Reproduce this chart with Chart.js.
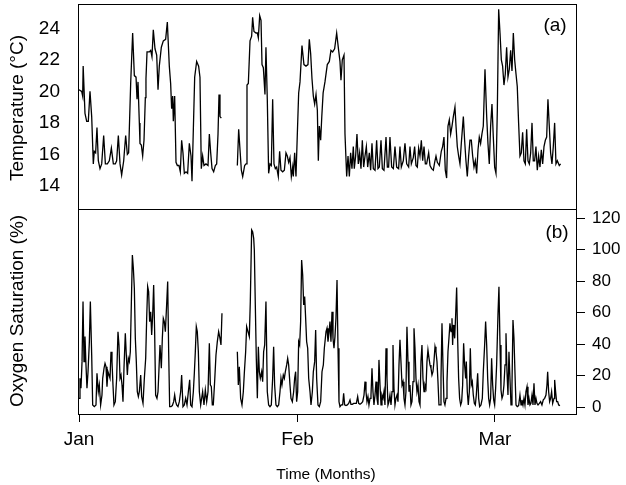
<!DOCTYPE html>
<html>
<head>
<meta charset="utf-8">
<title>Temperature and oxygen saturation</title>
<script src="https://cdn.jsdelivr.net/npm/chart.js@4.4.1/dist/chart.umd.min.js"></script>
<style>
  html, body { margin: 0; padding: 0; background: #fff; }
</style>
</head>
<body>
<canvas id="chart" width="626" height="485"></canvas>
<script>
// ---- data (days since 1 Jan) ----
const tempDays = [
  0.00, 0.38, 0.52, 0.59, 0.85, 1.09, 1.32, 1.56, 1.80, 2.03,
  2.17, 2.36, 2.55, 2.74, 2.98, 3.22, 3.50, 3.74, 4.02, 4.30,
  4.59, 4.87, 5.15, 5.34, 5.58, 5.82, 6.05, 6.34, 6.62, 6.86,
  7.04, 7.33, 7.61, 7.85, 8.09, 8.23, 8.37, 8.56, 8.65, 8.84,
  9.03, 9.22, 9.41, 9.50, 9.65, 9.98, 10.17, 10.35, 10.54, 10.78,
  11.02, 11.21, 11.39, 11.68, 11.96, 12.29, 12.53, 12.81, 13.00, 13.14,
  13.29, 13.38, 13.57, 13.76, 13.95, 14.18, 14.37, 14.56, 14.75, 14.94,
  15.18, 15.41, 15.65, 15.89, 16.03, 16.22, 16.41, 16.69, 16.97, 17.16,
  17.35, 17.54, 17.73, 18.01, 18.30, 18.49, 18.68, 18.87, 19.10, 19.34,
  19.53, 19.72, 19.86, 20.00, 20.19, 21.30,
  22.46, 22.65, 23.03, 23.22, 23.50, 23.69, 23.83, 24.02, 24.26, 24.49,
  24.63, 24.82, 25.11, 25.30, 25.44, 25.63, 25.82, 25.96, 26.15, 26.38,
  26.52, 26.71, 26.90, 27.09, 27.28, 27.47, 27.66, 27.85, 28.04, 28.27,
  28.46, 28.65, 28.89, 29.13, 29.36, 29.55, 29.74, 29.93, 30.12, 30.31,
  30.40, 30.59, 30.78, 30.97, 31.16, 31.35, 31.63, 31.91, 32.20, 32.48,
  32.67, 32.86, 33.05, 33.24, 33.43, 33.62, 33.81, 33.95, 34.09, 34.28,
  34.44, 34.63, 34.89, 35.22, 35.51, 35.74, 35.98, 36.26, 36.55, 36.83,
  37.02, 37.16, 37.35, 37.59, 37.73, 37.97, 38.16, 38.35, 38.53, 38.72,
  38.91, 39.05, 39.24, 39.43, 39.62, 39.81, 40.00, 40.19, 40.38, 40.57,
  40.76, 40.95, 41.18, 41.37, 41.56, 41.75, 41.99, 42.22, 42.41, 42.60,
  42.84, 43.03, 43.26, 43.55, 43.74, 43.92, 44.11, 44.35, 44.59, 44.82,
  45.06, 45.34, 45.53, 45.72, 46.00, 46.24, 46.48, 46.76, 46.95, 47.14,
  47.42, 47.61, 47.80, 47.99, 48.18, 48.37, 48.56, 48.75, 48.94, 49.13,
  49.31, 49.60, 49.79, 50.02, 50.26, 50.45, 50.64, 50.83, 51.11, 51.39,
  51.58, 51.77, 51.96, 52.15, 52.34, 52.53, 52.72, 52.91, 53.10, 53.33,
  53.48, 53.66, 53.85, 54.04, 54.23, 54.52, 54.70, 54.89, 55.08, 55.27,
  55.46, 55.65, 55.84, 56.03, 56.22, 56.41, 56.60, 56.78, 56.97, 57.16,
  57.35, 57.59, 57.83, 58.01, 58.20, 58.39, 58.58, 58.77, 58.96, 59.15,
  59.34, 59.53, 59.72, 59.91, 60.09, 60.28, 60.47, 60.66, 60.85, 61.04,
  61.23, 61.42, 61.61, 61.80, 61.99, 62.17, 62.36, 62.55, 62.74, 62.93,
  63.12, 63.31, 63.50, 63.69, 63.88, 64.07, 64.26, 64.44, 64.63, 64.82,
  65.01, 65.20, 65.39, 65.58, 65.77, 65.96, 66.15, 66.34, 66.52, 66.71,
  66.90, 67.09, 67.28, 67.47, 67.66, 67.85, 68.13, 68.32
];
const tempVals = [
  20.1, 20.0, 19.7, 21.6, 18.6, 18.1, 18.1, 20.0, 18.4, 15.4,
  16.2, 16.1, 17.7, 15.6, 15.1, 15.4, 17.2, 15.4, 15.4, 15.6,
  16.4, 15.4, 15.4, 15.6, 17.2, 15.4, 14.7, 15.6, 17.2, 16.0,
  16.1, 20.5, 23.7, 21.0, 20.9, 19.5, 20.6, 18.0, 16.7, 16.6,
  15.9, 16.9, 19.6, 20.8, 22.5, 22.5, 22.6, 22.2, 23.9, 22.7,
  22.3, 20.1, 21.6, 22.8, 23.2, 23.3, 24.4, 21.6, 20.5, 18.9,
  19.7, 18.1, 19.7, 15.5, 15.3, 15.3, 14.9, 16.9, 16.1, 14.8,
  14.9, 14.8, 16.7, 15.9, 14.3, 17.6, 20.9, 21.9, 21.6, 20.9,
  15.1, 15.9, 15.3, 15.4, 15.3, 17.3, 16.1, 15.1, 14.9, 15.3,
  15.4, 17.3, 19.8, 18.4, 18.3, null,
  15.3, 17.6, 15.0, 14.6, 15.3, 15.4, 20.4, 20.5, 23.2, 23.5,
  24.7, 23.8, 23.7, 23.7, 23.4, 24.8, 24.5, 21.7, 21.5, 19.8,
  22.8, 19.5, 14.8, 15.4, 15.3, 19.5, 15.4, 15.1, 15.2, 14.6,
  16.2, 15.0, 14.9, 15.0, 16.1, 15.9, 15.5, 15.8, 14.6, 15.2,
  14.6, 16.1, 14.6, 17.3, 19.9, 20.6, 22.9, 21.7, 21.6, 21.7,
  23.3, 22.4, 20.8, 19.7, 19.2, 19.8, 18.8, 15.6, 17.8, 16.9,
  18.4, 19.9, 20.6, 21.7, 21.9, 22.6, 22.5, 22.7, 23.7, 22.6,
  21.9, 20.7, 22.0, 22.3, 17.3, 14.6, 15.9, 14.6, 16.1, 15.1,
  16.5, 15.1, 15.9, 17.3, 15.4, 16.1, 15.1, 16.9, 15.2, 15.9,
  16.5, 15.2, 16.1, 15.0, 16.7, 15.1, 15.0, 16.9, 15.1, 15.2,
  16.9, 15.1, 15.0, 17.1, 15.2, 15.2, 17.1, 15.2, 15.1, 16.5,
  15.2, 15.1, 16.5, 15.2, 15.6, 16.7, 15.4, 15.2, 16.5, 15.4,
  15.8, 16.5, 15.3, 15.2, 16.4, 15.9, 16.9, 15.6, 16.5, 15.4,
  15.4, 16.1, 15.3, 15.1, 15.0, 15.5, 15.9, 15.5, 15.3, 16.2,
  16.5, 17.1, 15.0, 14.5, 17.8, 18.2, 17.3, 17.8, 18.4, 19.0,
  17.8, 16.5, 15.9, 15.4, 16.7, 18.4, 16.9, 15.6, 14.6, 15.9,
  16.9, 16.9, 15.9, 15.2, 15.6, 14.8, 16.3, 17.1, 16.7, 17.3,
  17.8, 21.4, 18.4, 16.7, 15.4, 17.8, 19.2, 17.1, 15.2, 14.8,
  18.8, 25.2, 23.7, 22.0, 21.6, 20.4, 21.1, 22.8, 20.9, 21.4,
  22.6, 21.3, 23.7, 22.0, 21.1, 20.3, 18.0, 15.9, 16.1, 17.4,
  15.6, 15.4, 17.6, 15.6, 15.4, 16.1, 18.0, 15.6, 15.6, 16.5,
  15.0, 15.9, 15.2, 16.3, 15.4, 16.5, 16.9, 17.1, 19.5, 17.8,
  16.1, 15.4, 16.5, 18.0, 15.4, 15.6, 15.3, 15.4
];

const oxyDays = [
  0.00, 0.14, 0.28, 0.43, 0.57, 0.71, 0.85, 0.99, 1.13, 1.28,
  1.47, 1.61, 1.80, 1.94, 2.17, 2.41, 2.55, 2.74, 2.88, 3.07,
  3.26, 3.36, 3.55, 3.69, 3.83, 3.97, 4.11, 4.26, 4.40, 4.54,
  4.68, 4.82, 4.96, 5.15, 5.34, 5.53, 5.67, 5.82, 5.96, 6.10,
  6.24, 6.38, 6.57, 6.71, 6.86, 7.00, 7.14, 7.28, 7.42, 7.57,
  7.71, 7.85, 7.99, 8.13, 8.27, 8.42, 8.56, 8.75, 8.89, 9.08,
  9.27, 9.46, 9.60, 9.74, 9.88, 10.02, 10.17, 10.31, 10.45, 10.59,
  10.73, 10.87, 11.06, 11.21, 11.35, 11.49, 11.68, 11.82, 11.96, 12.10,
  12.25, 12.43, 12.58, 12.72, 12.86, 13.05, 13.24, 13.43, 13.57, 13.71,
  13.85, 14.04, 14.23, 14.42, 14.56, 14.75, 14.94, 15.13, 15.32, 15.51,
  15.70, 15.84, 16.03, 16.22, 16.36, 16.50, 16.64, 16.78, 16.93, 17.07,
  17.26, 17.54, 17.73, 17.92, 18.11, 18.30, 18.49, 18.63, 18.77, 18.91,
  19.05, 19.24, 19.43, 19.62, 19.81, 20.00, 20.14, 20.28, 21.30,
  22.46, 22.60, 22.74, 22.93, 23.12, 23.31, 23.45, 23.64, 23.78, 23.97,
  24.16, 24.30, 24.49, 24.63, 24.78, 24.87, 25.01, 25.15, 25.30, 25.44,
  25.58, 25.72, 25.91, 26.05, 26.19, 26.34, 26.52, 26.71, 26.90, 27.09,
  27.28, 27.47, 27.61, 27.75, 27.94, 28.13, 28.32, 28.51, 28.65, 28.79,
  28.98, 29.13, 29.27, 29.46, 29.60, 29.74, 29.93, 30.07, 30.26, 30.45,
  30.59, 30.73, 30.87, 31.02, 31.16, 31.30, 31.44, 31.58, 31.73, 31.87,
  32.01, 32.15, 32.29, 32.44, 32.58, 32.77, 32.91, 33.10, 33.24, 33.43,
  33.57, 33.71, 33.90, 34.09, 34.28, 34.47, 34.66, 34.80, 35.04, 35.18,
  35.32, 35.46, 35.60, 35.74, 35.89, 36.03, 36.17, 36.31, 36.45, 36.60,
  36.74, 36.88, 37.02, 37.21, 37.40, 37.54, 37.68, 37.87, 38.06, 38.25,
  38.44, 38.58, 38.77, 38.96, 39.15, 39.34, 39.53, 39.67, 39.86, 40.05,
  40.24, 40.43, 40.57, 40.71, 40.85, 40.99, 41.13, 41.28, 41.42, 41.56,
  41.70, 41.84, 41.99, 42.13, 42.27, 42.41, 42.55, 42.70, 42.84, 42.98,
  43.12, 43.26, 43.40, 43.55, 43.69, 43.83, 43.97, 44.11, 44.26, 44.40,
  44.54, 44.68, 44.82, 44.96, 45.11, 45.25, 45.39, 45.53, 45.67, 45.82,
  45.96, 46.10, 46.24, 46.38, 46.52, 46.67, 46.81, 46.95, 47.09, 47.23,
  47.38, 47.52, 47.66, 47.80, 47.94, 48.09, 48.23, 48.37, 48.51, 48.65,
  48.79, 48.94, 49.08, 49.22, 49.36, 49.50, 49.65, 49.79, 49.93, 50.07,
  50.21, 50.35, 50.50, 50.64, 50.78, 50.92, 51.06, 51.21, 51.35, 51.49,
  51.63, 51.77, 51.91, 52.06, 52.20, 52.34, 52.48, 52.62, 52.77, 52.91,
  53.00, 53.10, 53.19, 53.29, 53.43, 53.57, 53.71, 53.85, 53.99, 54.14,
  54.28, 54.42, 54.56, 54.70, 54.85, 54.94, 55.08, 55.22, 55.37, 55.51,
  55.65, 55.79, 55.93, 56.08, 56.22, 56.36, 56.55, 56.69, 56.83, 57.02,
  57.21, 57.35, 57.54, 57.68, 57.83, 57.97, 58.11, 58.25, 58.39, 58.53,
  58.68, 58.82, 58.96, 59.10, 59.24, 59.43, 59.57, 59.72, 59.86, 60.00,
  60.14, 60.28, 60.43, 60.57, 60.71, 60.85, 60.99, 61.13, 61.28, 61.42,
  61.56, 61.70, 61.84, 61.99, 62.17, 62.36, 62.55, 62.70, 62.84, 62.98,
  63.12, 63.26, 63.40, 63.55, 63.69, 63.83, 63.97, 64.11, 64.26, 64.40,
  64.54, 64.68, 64.82, 64.96, 65.11, 65.30, 65.48, 65.67, 65.86, 66.05,
  66.24, 66.38, 66.48, 66.62, 66.76, 66.90, 67.04, 67.19, 67.38, 67.47,
  67.61, 67.75, 67.90, 68.04, 68.23
];
const oxyVals = [
  5.7, 18.4, 12.1, 29.0, 67.1, 29.0, 44.9, 26.9, 12.1, 22.6,
  41.7, 67.1, 33.2, 1.5, 0.4, 1.5, 21.6, 9.9, 14.2, 1.5,
  7.8, 18.4, 24.8, 27.9, 25.8, 13.1, 22.6, 20.5, 18.4, 35.3,
  29.0, 14.2, 1.5, 3.6, 18.4, 48.0, 39.6, 18.4, 20.5, 14.2,
  3.6, 24.8, 47.0, 33.2, 20.5, 31.1, 29.0, 35.3, 65.0, 96.7,
  88.3, 75.6, 43.8, 29.0, 9.9, 6.8, 9.9, 20.5, 6.8, 2.5,
  18.4, 31.1, 56.5, 76.6, 73.4, 54.4, 60.7, 45.9, 58.6, 77.7,
  48.0, 7.8, 5.7, 9.9, 24.8, 39.6, 24.8, 43.8, 56.5, 54.4,
  48.0, 65.0, 79.8, 35.3, 0.4, 0.4, 1.1, 3.6, 7.8, 3.6,
  1.5, 0.4, 3.6, 9.9, 20.5, 0.4, 1.5, 5.7, 1.5, 9.9,
  17.4, 1.5, 0.4, 9.9, 21.6, 35.3, 51.2, 48.0, 35.3, 9.9,
  1.5, 9.9, 1.5, 11.0, 3.6, 9.9, 40.6, 14.2, 13.1, 1.5,
  1.5, 16.3, 33.2, 41.7, 48.0, 43.8, 39.6, 59.7, null,
  35.3, 14.2, 25.8, 5.7, 1.5, 9.9, 21.6, 35.3, 51.2, 48.0,
  44.9, 67.1, 112.6, 111.5, 107.3, 99.9, 65.0, 31.1, 5.7, 38.5,
  22.6, 18.4, 22.6, 16.3, 35.3, 39.6, 67.1, 9.9, 1.5, 0.4,
  1.5, 18.4, 38.5, 14.2, 1.5, 0.4, 1.5, 9.9, 18.4, 14.2,
  20.5, 18.4, 22.6, 26.9, 31.1, 26.9, 14.2, 5.7, 3.6, 9.9,
  18.4, 22.6, 3.6, 9.9, 41.7, 39.6, 54.4, 93.5, 84.0, 65.0,
  70.3, 56.5, 41.7, 37.5, 18.4, 9.9, 1.5, 9.9, 22.6, 29.0,
  49.1, 18.4, 1.5, 0.4, 3.6, 22.6, 26.9, 37.5, 48.0, 50.2,
  41.7, 47.0, 54.4, 41.7, 60.7, 43.8, 37.5, 44.9, 56.5, 80.8,
  37.5, 3.6, 0.4, 1.5, 1.5, 8.9, 1.5, 1.1, 1.5, 2.5,
  4.7, 1.9, 1.9, 2.5, 2.5, 2.5, 6.8, 2.5, 1.9, 2.5,
  3.6, 7.8, 16.3, 9.9, 3.6, 6.8, 1.5, 5.7, 7.8, 24.8,
  9.9, 1.5, 7.8, 16.3, 5.7, 1.5, 30.1, 14.2, 1.5, 7.8,
  5.7, 9.9, 1.5, 37.5, 18.4, 1.5, 3.6, 7.8, 1.5, 9.9,
  39.6, 12.1, 1.5, 5.7, 7.8, 3.6, 26.9, 42.8, 29.0, 14.2,
  16.3, 5.7, 1.5, 9.9, 51.2, 29.0, 9.9, 14.2, 1.5, 3.6,
  16.3, 50.2, 37.5, 18.4, 9.9, 14.2, 3.6, 1.5, 29.0, 39.6,
  18.4, 9.9, 14.2, 12.1, 29.0, 36.4, 31.1, 26.9, 24.8, 20.5,
  22.6, 29.0, 38.5, 35.3, 29.0, 16.3, 1.5, 1.5, 18.4, 53.3,
  26.9, 3.6, 1.5, 5.7, 16.3, 35.3, 44.0, 53.3, 48.0, 56.5,
  39.6, 52.3, 48.0, 43.8, 58.6, 76.0, 43.8, 18.4, 5.7, 1.5,
  3.6, 14.2, 40.6, 26.9, 18.4, 29.0, 9.9, 1.5, 9.9, 37.5,
  14.2, 16.3, 7.8, 2.5, 1.5, 7.8, 21.6, 5.7, 0.4, 1.5,
  5.7, 22.6, 39.6, 54.4, 39.6, 18.4, 5.7, 1.5, 5.7, 31.1,
  14.2, 4.7, 1.5, 12.1, 26.9, 58.6, 76.6, 39.6, 11.0, 5.7,
  7.8, 14.2, 26.9, 47.0, 22.6, 7.8, 35.3, 18.4, 1.5, 14.2,
  55.4, 43.8, 22.6, 1.5, 0.4, 1.1, 7.8, 1.5, 4.7, 1.5,
  5.7, 1.5, 9.9, 13.1, 1.5, 5.7, 1.5, 2.5, 7.8, 1.5,
  15.2, 1.5, 5.7, 2.5, 1.5, 2.5, 3.6, 1.5, 4.7, 5.7,
  7.8, 14.2, 22.6, 9.9, 3.6, 5.7, 9.9, 2.5, 5.7, 17.4,
  9.9, 3.6, 3.6, 1.5, 1.1
];

// axis ticks and labels
const monthTicks = [0, 31, 59];
const monthLabels = ['Jan', 'Feb', 'Mar'];
const tempTicks = [14, 16, 18, 20, 22, 24];
const oxyTicks = [0, 20, 40, 60, 80, 100, 120];

// visible range of each panel (top panel = temperature, bottom = oxygen)
const tempRange = [12.54, 25.54];
const oxyRange = [-4.25, 125.9];
const dayRange = [-0.142, 70.5];

const FONT = "'Liberation Sans', Arial, Helvetica, sans-serif";

function toPoints(days, vals) {
  return days.map((d, i) => ({ x: d, y: vals[i] }));
}

// vertical axes: fixed width, no extra padding from tick labels
function fitY(width) {
  return s => {
    s.width = width;
    s.paddingTop = 0;
    s.paddingBottom = 0;
  };
}

// frame, separator and hand-placed labels
const panelPlugin = {
  id: 'panels',
  afterDraw(chart) {
    const { ctx, chartArea: a } = chart;
    const mid = Math.round(chart.scales.yT.getPixelForValue(tempRange[0])) + 0.5;
    ctx.save();
    ctx.strokeStyle = '#000';
    ctx.lineWidth = 1;
    ctx.strokeRect(Math.round(a.left) + 0.5, Math.round(a.top) + 0.5,
      Math.round(a.right - a.left), Math.round(a.bottom - a.top));
    ctx.beginPath();
    ctx.moveTo(a.left, mid);
    ctx.lineTo(a.right, mid);
    ctx.stroke();

    ctx.fillStyle = '#000';
    ctx.textAlign = 'center';
    ctx.textBaseline = 'middle';
    ctx.font = '19px ' + FONT;
    ctx.fillText('(a)', 555, 26);
    ctx.fillText('(b)', 557, 233);

    ctx.save();
    ctx.translate(18, 108);
    ctx.rotate(-Math.PI / 2);
    ctx.fillText('Temperature (°C)', 0, 0);
    ctx.restore();

    ctx.save();
    ctx.translate(18, 311);
    ctx.rotate(-Math.PI / 2);
    ctx.fillText('Oxygen Saturation (%)', 0, 0);
    ctx.restore();

    ctx.font = '15.5px ' + FONT;
    ctx.fillText('Time (Months)', 326, 475);
    ctx.restore();
  }
};

new Chart(document.getElementById('chart'), {
  type: 'line',
  data: {
    datasets: [
      {
        label: 'Temperature',
        data: toPoints(tempDays, tempVals),
        yAxisID: 'yT',
        borderColor: '#000',
        borderWidth: 1.3,
        pointRadius: 0,
        tension: 0,
        spanGaps: false
      },
      {
        label: 'Oxygen saturation',
        data: toPoints(oxyDays, oxyVals),
        yAxisID: 'yO',
        borderColor: '#000',
        borderWidth: 1.3,
        pointRadius: 0,
        tension: 0,
        spanGaps: false
      }
    ]
  },
  options: {
    responsive: false,
    animation: false,
    devicePixelRatio: 1,
    layout: { padding: { top: 4, left: 0, right: 0, bottom: 0 } },
    plugins: {
      legend: { display: false },
      tooltip: { enabled: false }
    },
    scales: {
      x: {
        type: 'linear',
        min: dayRange[0],
        max: dayRange[1],
        afterBuildTicks: s => { s.ticks = monthTicks.map(v => ({ value: v })); },
        afterFit: s => { s.height = 71; s.paddingLeft = 0; s.paddingRight = 0; },
        ticks: {
          callback: v => monthLabels[monthTicks.indexOf(v)],
          color: '#000',
          font: { family: FONT, size: 19 },
          padding: 6,
          maxRotation: 0,
          autoSkip: false
        },
        grid: { drawOnChartArea: false, tickLength: 8, color: '#000' },
        border: { display: false }
      },
      yT: {
        position: 'left',
        min: tempRange[0] - (tempRange[1] - tempRange[0]),
        max: tempRange[1],
        afterBuildTicks: s => { s.ticks = tempTicks.map(v => ({ value: v })); },
        afterFit: fitY(78),
        ticks: {
          color: '#000',
          font: { family: FONT, size: 19 },
          padding: 18
        },
        grid: { display: false, drawTicks: false },
        border: { display: false }
      },
      yO: {
        position: 'right',
        min: oxyRange[0],
        max: oxyRange[1] + (oxyRange[1] - oxyRange[0]),
        afterBuildTicks: s => { s.ticks = oxyTicks.map(v => ({ value: v })); },
        afterFit: fitY(50),
        ticks: {
          color: '#000',
          font: { family: FONT, size: 17 },
          padding: 7
        },
        grid: { drawOnChartArea: false, tickLength: 9, color: '#000' },
        border: { display: false }
      }
    }
  },
  plugins: [panelPlugin]
});
</script>
</body>
</html>
